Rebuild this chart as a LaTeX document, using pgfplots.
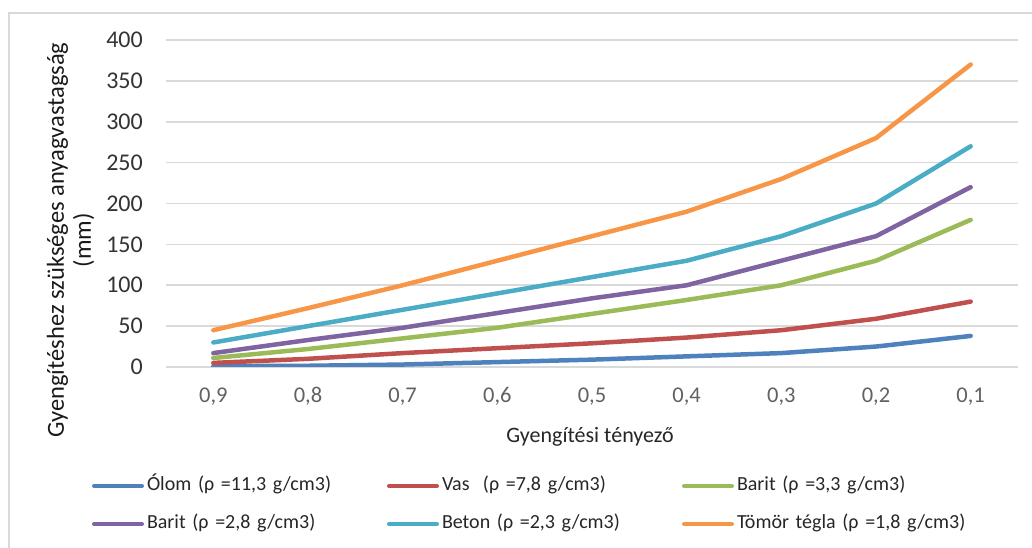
\documentclass[border=0pt]{standalone}
\usepackage{pgfplots}
\pgfplotsset{compat=1.18}
\usepackage{fontspec}
\setmainfont{Carlito}

\definecolor{cBlue}{HTML}{4F81BD}
\definecolor{cRed}{HTML}{C0504D}
\definecolor{cGreen}{HTML}{9BBB59}
\definecolor{cPurple}{HTML}{8064A2}
\definecolor{cAqua}{HTML}{4BACC6}
\definecolor{cOrange}{HTML}{F79646}
\definecolor{cGrid}{HTML}{D9D9D9}
\definecolor{cFrame}{HTML}{D9D9D9}

\begin{document}
\begin{tikzpicture}
\path[use as bounding box] (0,0) rectangle (1032bp,548bp);
% chart frame
\draw[cFrame, line width=2bp] (9bp,0) -- (9bp,535bp) -- (1032bp,535bp);

\begin{axis}[
  at={(166bp,181bp)}, anchor=south west,
  scale only axis,
  width=852bp, height=327bp,
  xmin=-0.5, xmax=8.5,
  ymin=0, ymax=400,
  xtick={0,1,2,3,4,5,6,7,8},
  xticklabels={{0,9},{0,8},{0,7},{0,6},{0,5},{0,4},{0,3},{0,2},{0,1}},
  ytick={0,50,100,150,200,250,300,350,400},
  ymajorgrids,
  grid style={cGrid, line width=1.6bp},
  axis line style={draw=none},
  major tick length=0pt,
  tick style={draw=none},
  /pgf/number format/assume math mode=true,
  yticklabel style={anchor=east, inner sep=0pt, xshift=-23bp,
    font=\fontsize{24bp}{28bp}\selectfont, text=black!80},
  xticklabel style={anchor=base, inner sep=0pt, yshift=-35bp,
    font=\fontsize{22.5bp}{26bp}\selectfont, text=black!62},
  xlabel={Gyengítési tényező},
  xlabel style={at={(axis description cs:0.4977,-0.2315)}, anchor=base,
    inner sep=0pt, font=\fontsize{22bp}{26bp}\selectfont, text=black!85},
  ylabel={Gyengítéshez szükséges anyagvastagság\\(mm)},
  ylabel style={at={(axis description cs:-0.112,0.388)}, anchor=center,
    align=center, inner sep=0pt, font=\fontsize{24.5bp}{27bp}\selectfont, text=black!90},
  legend columns=3,
  legend cell align=left,
  legend image code/.code={\draw[#1, line width=4bp, line cap=round] (1bp,0bp) -- (49bp,0bp);},
  legend style={
    at={(axis description cs:-0.08685,-0.3333)}, anchor=north west,
    draw=none, fill=none, inner sep=0pt, outer sep=0pt,
    font=\fontsize{20bp}{24bp}\selectfont, text=black!85,
    row sep=18bp,
    nodes={inner sep=0pt, text width=240bp, text height=15bp, text depth=5bp},
    /tikz/every odd column/.style={column sep=3bp},
  },
  every axis plot/.append style={line width=4.5bp, line cap=round, line join=round},
]
\addplot[cBlue] coordinates {(0,1) (1,1.5) (2,3) (3,6) (4,9) (5,13) (6,17) (7,25) (8,38)};
\addlegendentry{Ólom (ρ =11,3 g/cm3)}
\addplot[cRed] coordinates {(0,5) (1,10) (2,17) (3,23) (4,29) (5,36) (6,45) (7,59) (8,80)};
\addlegendentry{Vas\ \ (ρ =7,8 g/cm3)}
\addplot[cGreen] coordinates {(0,11) (1,22) (2,35) (3,48) (4,65) (5,82) (6,100) (7,130) (8,180)};
\addlegendentry{Barit\ (ρ =3,3 g/cm3)}
\addplot[cPurple] coordinates {(0,17) (1,33) (2,48) (3,66) (4,84) (5,100) (6,130) (7,160) (8,220)};
\addlegendentry{Barit\ (ρ =2,8 g/cm3)}
\addplot[cAqua] coordinates {(0,30) (1,50) (2,70) (3,90) (4,110) (5,130) (6,160) (7,200) (8,270)};
\addlegendentry{Beton (ρ =2,3 g/cm3)}
\addplot[cOrange] coordinates {(0,45) (1,72) (2,100) (3,130) (4,160) (5,190) (6,230) (7,280) (8,370)};
\addlegendentry{Tömör tégla (ρ =1,8 g/cm3)}
\end{axis}
\end{tikzpicture}
\end{document}
